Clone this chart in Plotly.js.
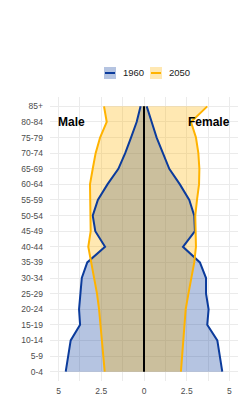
<!DOCTYPE html>
<html><head><meta charset="utf-8">
<script src="https://cdn.plot.ly/plotly-3.0.1.min.js"></script>
<style>html,body{margin:0;padding:0;background:#fff}#chart{width:248px;height:414px}</style>
</head><body><div id="chart"></div>
<script>
const ageGroups = ["0-4","5-9","10-14","15-19","20-24","25-29","30-34","35-39","40-44","45-49","50-54","55-59","60-64","65-69","70-74","75-79","80-84","85+"];
const male1960   = [4.58,4.45,4.29,3.74,3.80,3.72,3.64,3.32,2.28,2.85,3.00,2.70,2.14,1.50,1.10,0.76,0.43,0.20];
const female1960 = [4.58,4.44,4.29,3.70,3.78,3.63,3.63,3.27,2.28,2.98,2.94,2.65,2.10,1.48,1.13,0.74,0.45,0.16];
const male2050   = [2.30,2.38,2.46,2.53,2.63,2.75,2.92,3.12,3.26,3.12,3.12,3.16,3.16,3.00,2.83,2.57,2.18,2.34];
const female2050 = [2.16,2.24,2.30,2.36,2.44,2.60,2.79,2.94,3.04,3.00,3.00,3.10,3.22,3.24,3.18,3.04,2.75,3.70];
const years = ["1960","2050"];
const tickVals = [-5,-2.5,0,2.5,5];
const tickText = ["5","2.5","0","2.5","5"];

const blue = "#0b3b9c", orange = "#ffb300";
const blueFill = "rgba(11,59,156,0.3)", orangeFill = "rgba(255,179,0,0.3)";

function fillTr(xs, sign, fillc){
  return {type:"scatter", mode:"lines", x: xs.map(v=>sign*v), y: ageGroups,
    fill:"tozerox", fillcolor: fillc, line:{width:0, color:fillc}, showlegend:false, hoverinfo:"skip"};
}
function lineTr(xs, sign, color){
  return {type:"scatter", mode:"lines", x: xs.map(v=>sign*v), y: ageGroups,
    line:{color:color, width:2}, showlegend:false, hoverinfo:"skip"};
}
const data = [
  fillTr(male1960,-1,blueFill), fillTr(female1960,1,blueFill),
  fillTr(male2050,-1,orangeFill), fillTr(female2050,1,orangeFill),
  lineTr(male1960,-1,blue), lineTr(female1960,1,blue),
  lineTr(male2050,-1,orange), lineTr(female2050,1,orange),
  {type:"scatter", mode:"lines", x: ageGroups.map(()=>0), y: ageGroups, line:{color:"#000", width:2}, showlegend:false, hoverinfo:"skip"}
];

// plot area in pixels: x 50..238, y 97..381
const L=50, W=188, T=97, H=284;
const px = v => (v-L)/W, py = v => (T+H-v)/H;
function legendItem(x0, color, fillc, label){
  return {
    shapes:[
      {type:"rect", xref:"paper", yref:"paper", x0:px(x0), x1:px(x0+12), y0:py(79), y1:py(67), fillcolor:fillc, line:{width:0}},
      {type:"line", xref:"paper", yref:"paper", x0:px(x0+1), x1:px(x0+11), y0:py(73), y1:py(73), line:{color:color, width:2}}
    ],
    ann:{text:label, xref:"paper", yref:"paper", x:px(x0+17), xanchor:"left", y:py(73), yanchor:"middle", showarrow:false, font:{size:9.5,color:"#1a1a1a"}}
  };
}
const li1 = legendItem(104, blue, blueFill, years[0]);
const li2 = legendItem(150, orange, orangeFill, years[1]);

const layout = {
  width:248, height:414, paper_bgcolor:"#fff", plot_bgcolor:"#fff",
  margin:{l:L,r:10,t:T,b:33},
  font:{family:"Liberation Sans, Arial, sans-serif", size:8, color:"#4d4d4d"},
  showlegend:false,
  xaxis:{range:[-5.5,5.5], tickvals:tickVals, ticktext:tickText, showgrid:true, gridcolor:"#ebebeb", gridwidth:1,
    minor:{dtick:1.25, tick0:0, showgrid:true, gridcolor:"#ebebeb", gridwidth:1},
    zeroline:false, ticks:"", ticklabelstandoff:3, fixedrange:true,
    tickfont:{size:8.5,color:"#4d4d4d"}},
  yaxis:{type:"category", categoryarray:ageGroups, categoryorder:"array", range:[-0.6,17.6],
    showgrid:true, gridcolor:"#ebebeb", gridwidth:1, ticks:"", zeroline:false, ticklabelstandoff:6,
    tickfont:{size:8.5,color:"#4d4d4d"}},
  shapes:[...li1.shapes, ...li2.shapes],
  annotations:[
    li1.ann, li2.ann,
    {text:"<b>Male</b>", x:-5, xanchor:"left", xshift:-3, y:"80-84", yanchor:"middle", showarrow:false, font:{size:12,color:"#000"}},
    {text:"<b>Female</b>", x:5, xanchor:"right", xshift:3, y:"80-84", yanchor:"middle", showarrow:false, font:{size:12,color:"#000"}}
  ]
};
Plotly.newPlot("chart", data, layout, {displayModeBar:false, staticPlot:true});
</script></body></html>
